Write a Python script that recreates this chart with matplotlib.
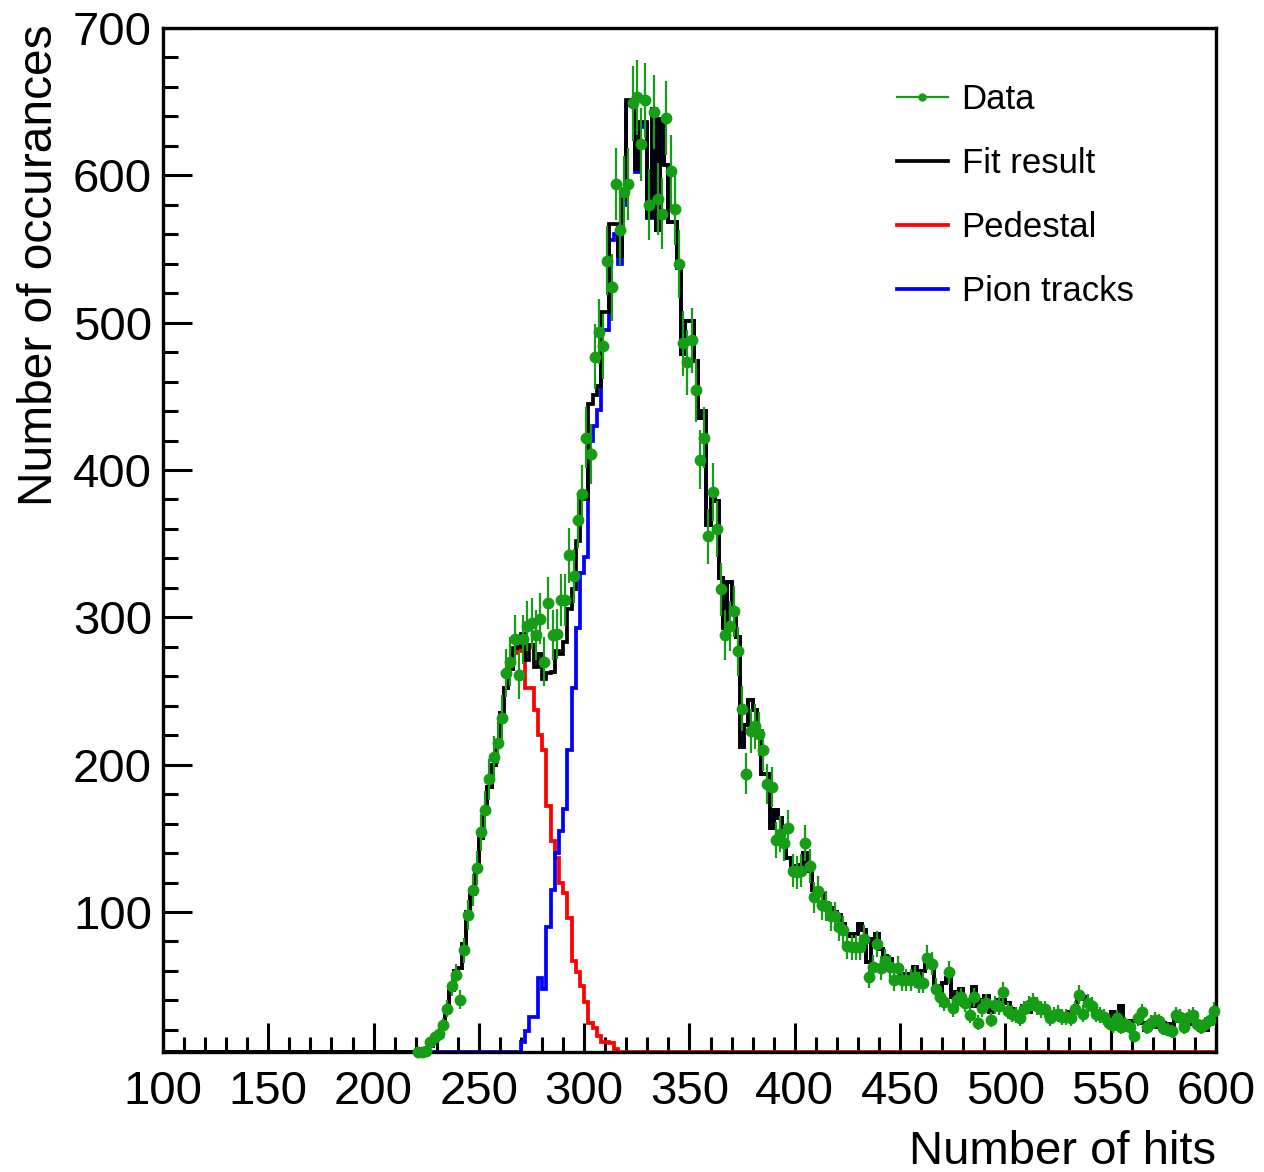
import numpy as np
import matplotlib
matplotlib.use("Agg")
import matplotlib.pyplot as plt
from matplotlib.ticker import MultipleLocator
from matplotlib.lines import Line2D

plt.rcParams['font.family'] = ['Liberation Sans', 'DejaVu Sans']

# ---------------- data ----------------
bin_lo, bin_hi, bin_w = 100, 600, 2
first_center = 221  # first filled bin centre (bins 220-222 ...)

data_counts = [
    5, 5, 5.5, 11.8, 15, 17.5, 23, 34.5, 50, 57,            # 221-239
    40.6, 74, 98, 115, 130, 154, 169, 190, 205, 215,        # 241-259
    232, 262, 270, 285, 261, 285, 294, 296, 288, 299,       # 261-279
    270, 310, 288, 289, 312, 312, 342, 328, 366, 384,       # 281-299
    422, 411, 477, 494, 484, 542, 524, 594, 563, 589,       # 301-319
    594, 649, 653, 621, 651, 580, 643, 584, 574, 639,       # 321-339
    603, 577, 540, 486, 473, 488, 454, 407, 422, 355,       # 341-359
    385, 360, 319, 288, 294, 304, 277, 238, 194, 223,       # 361-379
    226, 221, 210, 187, 185, 149, 153, 147, 157, 128,       # 381-399
    127, 128, 147, 131, 110, 114, 105, 104, 97, 97,         # 401-419
    90, 88, 77, 76, 76, 76, 82, 56, 63, 78,                 # 421-439
    62, 67, 63, 54, 62, 54, 54, 54, 56, 52,                 # 441-459
    52, 69, 65, 48, 42, 39, 59, 35, 40, 42,                 # 461-479
    38, 30, 42, 25, 35, 38, 27, 37, 36, 46,                 # 481-499
    33, 31, 30, 28, 34, 37, 39, 36, 34, 34,                 # 501-519
    28, 30, 31, 29, 29, 28, 34, 44, 31, 38,                 # 521-539
    36, 31, 30, 29, 25, 23, 28, 22, 24, 22,                 # 541-559
    16, 28, 32, 22, 25, 27, 26, 21, 20, 19,                 # 561-579
    30, 29, 22, 29, 30, 24, 22, 24, 27, 33,                 # 581-599
]

pedestal_counts = [
    0, 2, 4, 9, 13, 17, 24, 32, 47, 60,                     # 221-239
    62, 78, 100, 112, 128, 150, 168, 185, 200, 215,         # 241-259
    235, 252, 265, 276, 278, 277, 252, 252, 237, 220,       # 261-279
    210, 172, 148, 137, 120, 113, 96, 67, 59, 50,           # 281-299
    39, 25, 21, 16, 12, 12, 11, 7, 5, 4,                    # 301-319
    3, 4, 2, 3, 1, 1,                                       # 321-331
]

pion_counts = [
    0, 0, 0, 0, 0, 0, 0, 0, 0, 0,                           # 221-239
    0, 0, 0, 0, 0, 0, 0, 0, 0, 0,                           # 241-259
    0, 0, 0, 3, 2, 12, 19, 29, 29, 55,                      # 261-279
    48, 90, 115, 140, 155, 170, 210, 252, 293, 330,         # 281-299
    341, 420, 430, 441, 495, 495, 556, 560, 540, 580,       # 301-319
    648, 647, 602, 633, 635, 571, 645, 563, 638, 607,       # 321-339
    568, 568, 537, 479, 501, 501, 474, 435, 440, 363,       # 341-359
    384, 379, 327, 293, 324, 306, 287, 212, 227, 244,       # 361-379
    237, 222, 194, 194, 157, 169, 164, 148, 137, 131,       # 381-399
    128, 132, 140, 128, 115, 112, 112, 106, 103, 100,       # 401-419
    98, 92, 85, 84, 85, 92, 88, 66, 82, 85,                 # 421-439
    75, 70, 68, 63, 60, 58, 58, 58, 63, 56,                 # 441-459
    60, 70, 66, 50, 45, 52, 55, 42, 46, 48,                 # 461-479
    40, 36, 49, 36, 40, 43, 32, 36, 40, 40,                 # 481-499
    38, 34, 32, 30, 36, 32, 38, 36, 36, 34,                 # 501-519
    30, 28, 32, 31, 30, 32, 34, 41, 42, 40,                 # 521-539
    36, 30, 28, 28, 25, 32, 26, 36, 26, 20,                 # 541-559
    26, 28, 25, 20, 24, 22, 26, 25, 24, 22,                 # 561-579
    28, 26, 26, 24, 25, 24, 20, 20, 24, 30,                 # 581-599
]

legend_labels = ["Data", "Fit result", "Pedestal", "Pion tracks"]
x_title = "Number of hits"
y_title = "Number of occurances"

# ---------------- build histograms ----------------
edges = np.arange(bin_lo, bin_hi + bin_w, bin_w)
nb = len(edges) - 1
centers = 0.5 * (edges[:-1] + edges[1:])
i0 = int((first_center - bin_lo) // bin_w)

def full(vals):
    a = np.zeros(nb)
    a[i0:i0 + len(vals)] = vals
    return a

data = full(data_counts)
ped = full(pedestal_counts)
pion = full(pion_counts)
fit = ped + pion

ymin, ymax = 5, 700

W, H = 1264, 1172
fig = plt.figure(figsize=(W / 100, H / 100), dpi=100)
ax = fig.add_axes([163 / W, 1 - 1052 / H, (1216 - 163) / W, (1052 - 28) / H])

lw = 2.7
for vals, col in ((ped, '#ff0000'), (pion, '#0000ff'), (fit, 'black')):
    ax.stairs(np.maximum(vals, ymin), edges, color=col, lw=lw, baseline=None,
              clip_on=False, zorder=2)

green = '#159d15'
m = data > 0
ax.errorbar(centers[m], data[m], yerr=np.sqrt(data[m]), fmt='o', color=green,
            ms=7.5, mec=green, mfc=green, elinewidth=1.6, capsize=0, zorder=5,
            clip_on=False)

ax.set_xlim(bin_lo, bin_hi)
ax.set_ylim(ymin, ymax)
ax.xaxis.set_major_locator(MultipleLocator(50))
ax.xaxis.set_minor_locator(MultipleLocator(10))
ax.yaxis.set_major_locator(MultipleLocator(100))
ax.yaxis.set_minor_locator(MultipleLocator(20))
ax.tick_params(which='both', direction='in', top=False, right=False, width=2.2,
               labelsize=34)
ax.tick_params(which='major', length=21)
ax.tick_params(which='minor', length=10.5)
ax.tick_params(axis='x', pad=13)
ax.tick_params(axis='y', pad=8)
for s in ax.spines.values():
    s.set_linewidth(2.4)
    s.set_zorder(2.5)

fig.text(1216 / W, 1 - 1164 / H, x_title, ha='right', va='baseline', fontsize=34)
fig.text(40 / W, 1 - 24 / H, y_title, ha='center', va='top', rotation=90,
         fontsize=34.5)

handles = [
    Line2D([], [], color=green, lw=1.6, marker='o', ms=5),
    Line2D([], [], color='black', lw=lw),
    Line2D([], [], color='#ff0000', lw=lw),
    Line2D([], [], color='#0000ff', lw=lw),
]
ax.legend(handles, legend_labels, loc='upper left',
          bbox_to_anchor=((897 - 163) / 1053, (1052 - 83) / 1024),
          frameon=False, fontsize=25, handlelength=1.46, handletextpad=0.4,
          labelspacing=0.89, borderpad=0, borderaxespad=0)

fig.savefig('out.png', dpi=100)
